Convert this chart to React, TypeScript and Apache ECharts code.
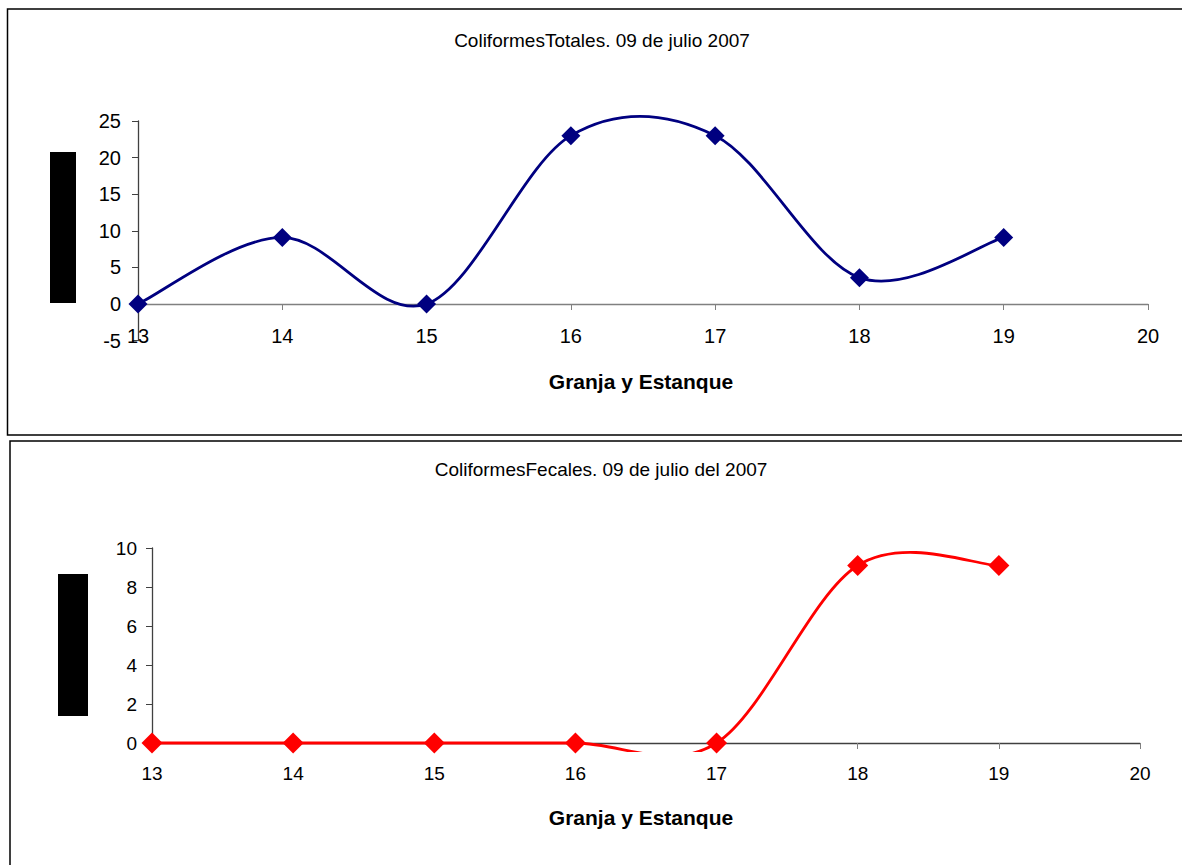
import React, { useEffect, useRef } from "react";
import * as echarts from "echarts";

const xTicks = [13, 14, 15, 16, 17, 18, 19, 20];
const granjas = [13, 14, 15, 16, 17, 18, 19];
const totales = [0, 9.1, 0, 23, 23, 3.6, 9.1];
const fecales = [0, 0, 0, 0, 0, 9.1, 9.1];

const titleTop = "ColiformesTotales. 09 de julio 2007";
const titleBottom = "ColiformesFecales. 09 de julio del 2007";
const xName = "Granja y Estanque";

function splinePath(pts: number[][]) {
  let d = `M${pts[0][0]},${pts[0][1]}`;
  for (let i = 0; i < pts.length - 1; i++) {
    const p0 = pts[i - 1] || pts[i];
    const p1 = pts[i];
    const p2 = pts[i + 1];
    const p3 = pts[i + 2] || pts[i + 1];
    const c1x = p1[0] + (p2[0] - p0[0]) / 6;
    const c1y = p1[1] + (p2[1] - p0[1]) / 6;
    const c2x = p2[0] - (p3[0] - p1[0]) / 6;
    const c2y = p2[1] - (p3[1] - p1[1]) / 6;
    d += ` C${c1x},${c1y} ${c2x},${c2y} ${p2[0]},${p2[1]}`;
  }
  return d;
}

function curveSeries(idx: number, vals: number[], color: string, clipExtra: number) {
  return {
    type: "custom",
    xAxisIndex: idx,
    yAxisIndex: idx,
    data: granjas.map((g, i) => [g, vals[i]]),
    encode: { x: 0, y: 1 },
    z: 2,
    renderItem: (params: any, api: any) => {
      if (params.dataIndex !== 0) return null;
      const pts = granjas.map((g, i) => api.coord([g, vals[i]]));
      const cs = params.coordSys;
      return {
        type: "path",
        shape: { pathData: splinePath(pts) },
        style: { fill: "none", stroke: color, lineWidth: 2.8 },
        clipPath: {
          type: "rect",
          shape: { x: cs.x - 20, y: cs.y - 40, width: cs.width + 40, height: cs.height + 40 + clipExtra },
        },
      };
    },
  };
}

function markerSeries(idx: number, vals: number[], color: string, size: number) {
  return {
    type: "scatter",
    xAxisIndex: idx,
    yAxisIndex: idx,
    data: granjas.map((g, i) => [g, vals[i]]),
    symbol: "diamond",
    symbolSize: size,
    itemStyle: { color, opacity: 1 },
    clip: false,
    z: 3,
  };
}

export default function App() {
  const ref = useRef<HTMLDivElement>(null);
  useEffect(() => {
    document.body.style.margin = "0";
    document.body.style.overflow = "hidden";
    const chart = echarts.init(ref.current!, undefined, { renderer: "svg" });
    const font = "Liberation Sans, Arial, sans-serif";
    chart.setOption({
      animation: false,
      backgroundColor: "#fff",
      grid: [
        { left: 138, top: 121, width: 1010, height: 219.6 },
        { left: 152, top: 548, width: 988, height: 195 },
      ],
      xAxis: [
        {
          type: "value",
          gridIndex: 0,
          min: 13,
          max: 20,
          interval: 1,
          splitLine: { show: false },
          axisLine: { onZero: true, lineStyle: { color: "#808080", width: 1.3 } },
          axisTick: { show: true, length: 6, lineStyle: { color: "#808080" } },
          axisLabel: { color: "#000", fontSize: 20, fontFamily: font, margin: -15 },
        },
        {
          type: "value",
          gridIndex: 1,
          min: 13,
          max: 20,
          interval: 1,
          splitLine: { show: false },
          axisLine: { onZero: true, lineStyle: { color: "#404040", width: 1.3 } },
          axisTick: { show: true, length: 6, lineStyle: { color: "#808080" } },
          axisLabel: { color: "#000", fontSize: 19, fontFamily: font, margin: 21 },
        },
      ],
      yAxis: [
        {
          type: "value",
          gridIndex: 0,
          min: -5,
          max: 25,
          interval: 5,
          splitLine: { show: false },
          axisLine: { show: true, onZero: false, lineStyle: { color: "#404040", width: 1.3 } },
          axisTick: { show: true, length: 6, lineStyle: { color: "#404040" } },
          axisLabel: { color: "#000", fontSize: 20, fontFamily: font, margin: 17 },
        },
        {
          type: "value",
          gridIndex: 1,
          min: 0,
          max: 10,
          interval: 2,
          splitLine: { show: false },
          axisLine: { show: true, onZero: false, lineStyle: { color: "#404040", width: 1.3 } },
          axisTick: { show: true, length: 6, lineStyle: { color: "#404040" } },
          axisLabel: { color: "#000", fontSize: 19, fontFamily: font, margin: 15 },
        },
      ],
      series: [
        curveSeries(0, totales, "#000080", 40),
        markerSeries(0, totales, "#000080", 19),
        curveSeries(1, fecales, "#ff0000", 9),
        markerSeries(1, fecales, "#ff0000", 21),
      ],
      graphic: [
        { type: "rect", shape: { x: 7.5, y: 9, width: 1200, height: 426 }, style: { fill: "none", stroke: "#000", lineWidth: 1.5 }, z: -1 },
        { type: "rect", shape: { x: 10, y: 441, width: 1200, height: 440 }, style: { fill: "none", stroke: "#000", lineWidth: 1.5 }, z: -1 },
        { type: "rect", shape: { x: 50, y: 152, width: 26, height: 151 }, style: { fill: "#000" } },
        { type: "rect", shape: { x: 58, y: 574, width: 30, height: 142 }, style: { fill: "#000" } },
        { type: "text", x: 602, y: 40, style: { text: titleTop, fill: "#000", font: `19px ${font}`, align: "center", verticalAlign: "middle" } },
        { type: "text", x: 601, y: 469, style: { text: titleBottom, fill: "#000", font: `19px ${font}`, align: "center", verticalAlign: "middle" } },
        { type: "text", x: 641, y: 381, style: { text: xName, fill: "#000", font: `bold 21px ${font}`, align: "center", verticalAlign: "middle" } },
        { type: "text", x: 641, y: 817, style: { text: xName, fill: "#000", font: `bold 21px ${font}`, align: "center", verticalAlign: "middle" } },
      ],
    });
    return () => chart.dispose();
  }, []);
  return <div ref={ref} style={{ width: 1182, height: 865 }} />;
}
